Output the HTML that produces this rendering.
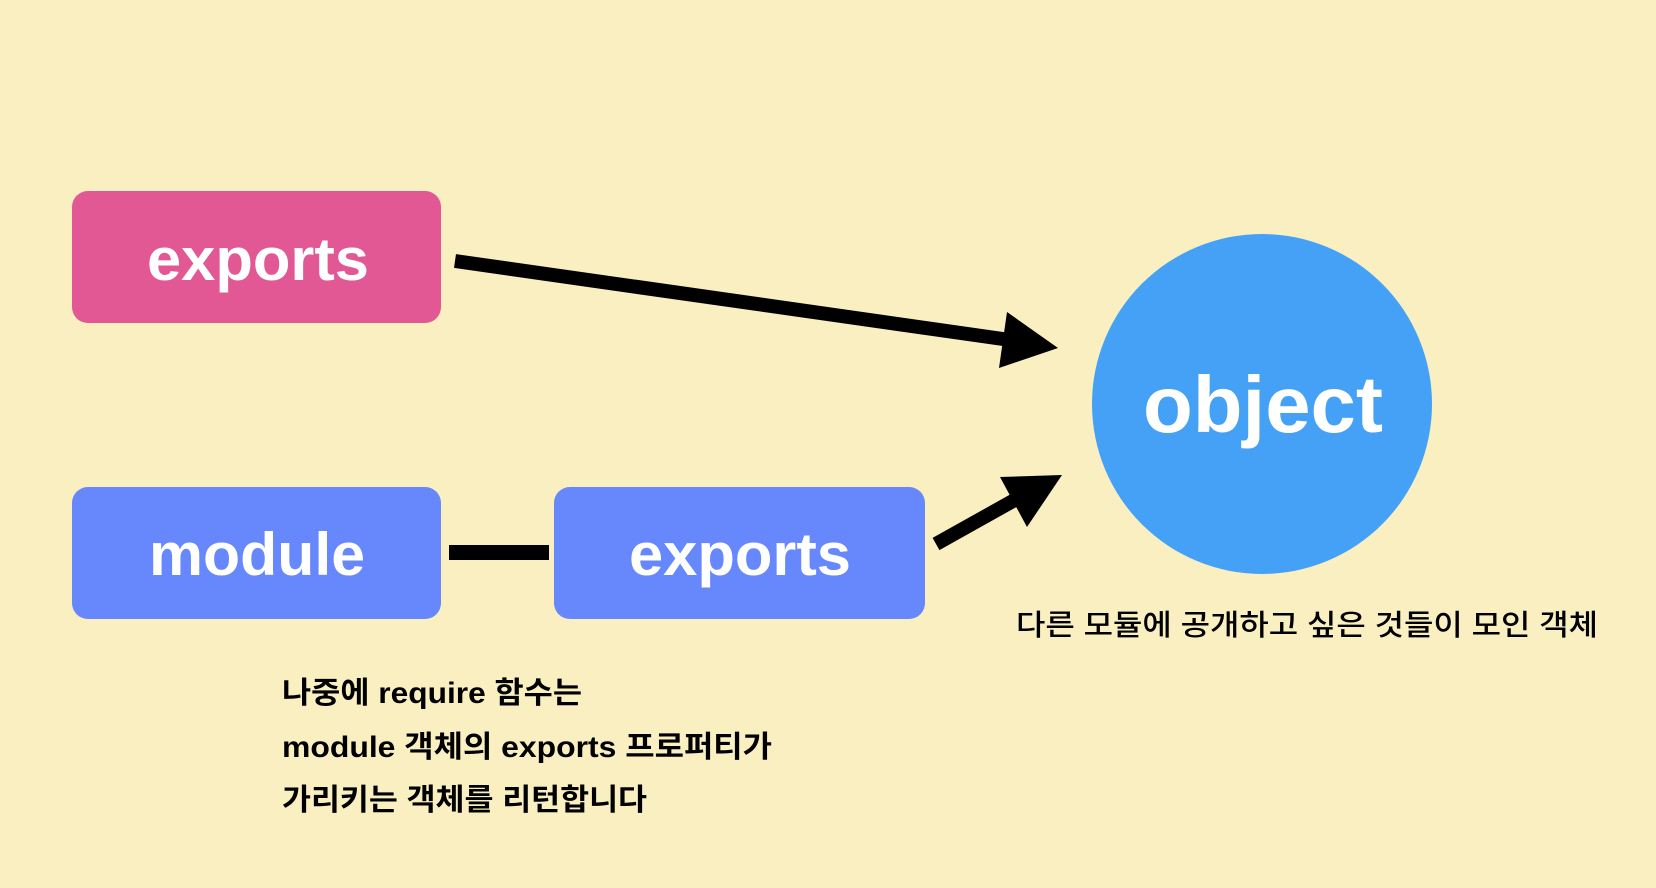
<!DOCTYPE html>
<html><head><meta charset="utf-8"><style>
html,body{margin:0;padding:0;background:#F9EFC0;}
svg{display:block}
text{font-family:"Liberation Sans","Noto Sans CJK KR",sans-serif;font-weight:bold}
</style></head><body>
<svg width="1656" height="888" viewBox="0 0 1656 888" xmlns="http://www.w3.org/2000/svg">
<rect width="1656" height="888" fill="#F9EFC0"/>
<rect x="72" y="191" width="369" height="132" rx="16" fill="#E15895"/>
<rect x="72" y="487" width="369" height="132" rx="16" fill="#6688FC"/>
<rect x="554" y="487" width="371" height="132" rx="16" fill="#6688FC"/>
<circle cx="1262" cy="404" r="170" fill="#44A1F6"/>
<text x="258" y="280" font-size="60" fill="#fff" text-anchor="middle" textLength="222" lengthAdjust="spacingAndGlyphs">exports</text>
<text x="257" y="575" font-size="60" fill="#fff" text-anchor="middle" textLength="216" lengthAdjust="spacingAndGlyphs">module</text>
<text x="740" y="575" font-size="60" fill="#fff" text-anchor="middle" textLength="222" lengthAdjust="spacingAndGlyphs">exports</text>
<text x="1263" y="432" font-size="80" fill="#fff" text-anchor="middle" textLength="240" lengthAdjust="spacingAndGlyphs">object</text>
<line x1="455" y1="261" x2="1010" y2="340" stroke="#000" stroke-width="14"/>
<polygon points="1058,348 1007,312 999,368" fill="#000"/>
<line x1="936" y1="544" x2="1020" y2="497" stroke="#000" stroke-width="14"/>
<polygon points="1062,475 1000,477 1027,527" fill="#000"/>
<rect x="449" y="545" width="100" height="15" fill="#000"/>
<text x="1016" y="635" font-size="29" font-weight="normal" fill="#000" textLength="582" lengthAdjust="spacingAndGlyphs" style="font-weight:500">다른 모듈에 공개하고 싶은 것들이 모인 객체</text>
<text x="282" y="703" font-size="30" fill="#000" textLength="300" lengthAdjust="spacingAndGlyphs">나중에 require 함수는</text>
<text x="282" y="757" font-size="30" fill="#000" textLength="490" lengthAdjust="spacingAndGlyphs">module 객체의 exports 프로퍼티가</text>
<text x="282" y="810" font-size="30" fill="#000" textLength="365" lengthAdjust="spacingAndGlyphs">가리키는 객체를 리턴합니다</text>
</svg>
</body></html>
